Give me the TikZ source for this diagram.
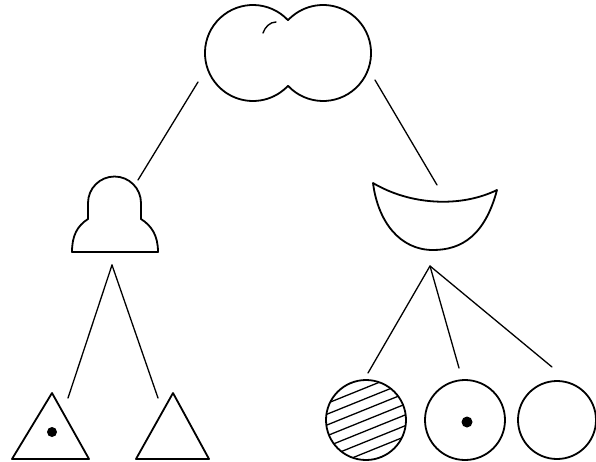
\documentclass[tikz,border=0pt]{standalone}
\begin{document}
\begin{tikzpicture}[x=1pt,y=1pt,
  shapeline/.style={line width=1.8pt,line join=round,line cap=round},
  conn/.style={line width=1.3pt,line cap=round},
  hatchline/.style={line width=1.3pt}]
\useasboundingbox (0,0) rectangle (596,-461);
% top double circle
\draw[shapeline] (288,-20.2) arc[start angle=43.1,end angle=316.9,radius=48]
  arc[start angle=223.1,end angle=496.9,radius=48] -- cycle;
\draw[line width=1.4pt,line cap=round] (263,-33) .. controls (265,-27) and (270,-22) .. (276,-22);
% bell
\draw[shapeline] (72,-252) -- (158,-252) .. controls (158,-236) and (152,-226) .. (141,-219)
  -- (141,-203) arc[start angle=0,end angle=180,radius=26.5]
  -- (88,-219) .. controls (77,-226) and (72,-236) .. (72,-252) -- cycle;
% bowl
\draw[shapeline] (373,-183) .. controls (410,-205) and (460,-208) .. (497,-190)
  .. controls (485,-235) and (462,-250) .. (433,-250)
  .. controls (400,-250) and (378,-222) .. (373,-183) -- cycle;
% triangles
\draw[shapeline] (52,-393) -- (89,-459) -- (12,-459) -- cycle;
\fill (52,-432) circle (5);
\draw[shapeline] (173,-393) -- (209,-459) -- (136,-459) -- cycle;
% circles
\begin{scope}
\clip (366,-420) circle (40);
\foreach \i in {-5,...,5}
  \draw[hatchline,rotate around={22:(366,-420)}] (316,-420+\i*10) -- (416,-420+\i*10);
\end{scope}
\draw[shapeline] (366,-420) circle (40);
\draw[shapeline] (465,-420) circle (40);
\fill (467,-422) circle (5.5);
\draw[shapeline] (557,-420) circle (39);
% connector endpoints
\coordinate (tl) at (198,-82);
\coordinate (bellTop) at (138,-180);
\coordinate (tr) at (375,-80);
\coordinate (bowlTop) at (437,-185);
\coordinate (bellBot) at (112,-265);
\coordinate (triA) at (68,-398);
\coordinate (triB) at (158,-398);
\coordinate (bowlBot) at (430,-266);
\coordinate (cirA) at (368,-373);
\coordinate (cirB) at (459,-368);
\coordinate (cirC) at (552,-367);
\draw[conn] (tl) -- (bellTop);
\draw[conn] (tr) -- (bowlTop);
\draw[conn] (bellBot) -- (triA);
\draw[conn] (bellBot) -- (triB);
\draw[conn] (bowlBot) -- (cirA);
\draw[conn] (bowlBot) -- (cirB);
\draw[conn] (bowlBot) -- (cirC);
\end{tikzpicture}
\end{document}
